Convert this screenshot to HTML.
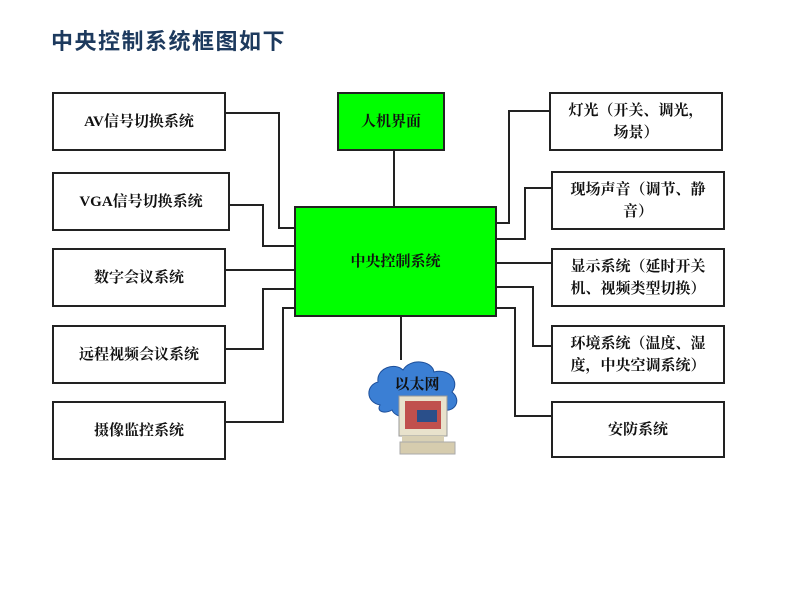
<!DOCTYPE html>
<html><head><meta charset="utf-8"><style>
body{margin:0;width:800px;height:600px;background:#fff;position:relative;overflow:hidden;font-family:"Liberation Serif","Noto Serif CJK SC","Noto Sans CJK SC",serif;}
.t{position:absolute;left:51px;top:24px;font:bold 22px "Liberation Sans","Noto Sans CJK SC",sans-serif;color:#1d3a5e;letter-spacing:1.5px}
.b{position:absolute;box-sizing:border-box;border:2px solid #222;background:#fff;display:flex;align-items:center;justify-content:center;text-align:center;font-weight:bold;font-size:15px;line-height:22px;color:#111;padding:0 4px;white-space:nowrap}
.g{background:#00ff00}
svg{position:absolute;left:0;top:0}
</style></head><body>
<div class="t">中央控制系统框图如下</div>
<svg width="800" height="600">
<g stroke="#222" stroke-width="2" fill="none">
<polyline points="225,113 279,113 279,228 294,228"/>
<polyline points="230,205 263,205 263,246 294,246"/>
<polyline points="226,270 294,270"/>
<polyline points="294,289 263,289 263,349 226,349"/>
<polyline points="294,308 283,308 283,422 226,422"/>
<polyline points="496,223 509,223 509,111 549,111"/>
<polyline points="496,239 525,239 525,188 551,188"/>
<polyline points="496,263 551,263"/>
<polyline points="496,287 533,287 533,346 551,346"/>
<polyline points="496,308 515,308 515,416 551,416"/>
<line x1="394" y1="150" x2="394" y2="206"/>
<line x1="401" y1="316" x2="401" y2="360"/>
</g>
<g fill="#3b7fd4" stroke="#1d4f9a" stroke-width="1">
<path d="M380,405 C365,402 366,385 378,382 C376,368 395,362 403,370 C410,358 432,360 434,372 C450,368 460,382 452,392 C462,400 455,412 444,410 C440,418 425,418 420,412 C412,420 395,418 392,410 C385,414 376,412 380,405Z"/>
</g>
<text x="417" y="389" text-anchor="middle" font-weight="bold" font-size="15" fill="#111" font-family="Liberation Serif,Noto Serif CJK SC,serif">以太网</text>
<rect x="399" y="396" width="48" height="40" fill="#e8e2cc" stroke="#999"/>
<rect x="405" y="401" width="36" height="28" fill="#c0504d"/>
<rect x="417" y="410" width="20" height="12" fill="#2a4f8a"/>
<rect x="402" y="436" width="42" height="6" fill="#d8d0b4"/>
<rect x="400" y="442" width="55" height="12" fill="#d6ccae" stroke="#aaa"/>
</svg>
<div class="b" style="left:52px;top:92px;width:174px;height:59px">AV信号切换系统</div>
<div class="b" style="left:52px;top:172px;width:178px;height:59px">VGA信号切换系统</div>
<div class="b" style="left:52px;top:248px;width:174px;height:59px">数字会议系统</div>
<div class="b" style="left:52px;top:325px;width:174px;height:59px">远程视频会议系统</div>
<div class="b" style="left:52px;top:401px;width:174px;height:59px">摄像监控系统</div>
<div class="b g" style="left:337px;top:92px;width:108px;height:59px">人机界面</div>
<div class="b g" style="left:294px;top:206px;width:203px;height:111px">中央控制系统</div>
<div class="b" style="left:549px;top:92px;width:174px;height:59px">灯光（开关、调光，<br>场景）</div>
<div class="b" style="left:551px;top:171px;width:174px;height:59px">现场声音（调节、静<br>音）</div>
<div class="b" style="left:551px;top:248px;width:174px;height:59px">显示系统（延时开关<br>机、视频类型切换）</div>
<div class="b" style="left:551px;top:325px;width:174px;height:59px">环境系统（温度、湿<br>度，中央空调系统）</div>
<div class="b" style="left:551px;top:401px;width:174px;height:57px">安防系统</div>
</body></html>
